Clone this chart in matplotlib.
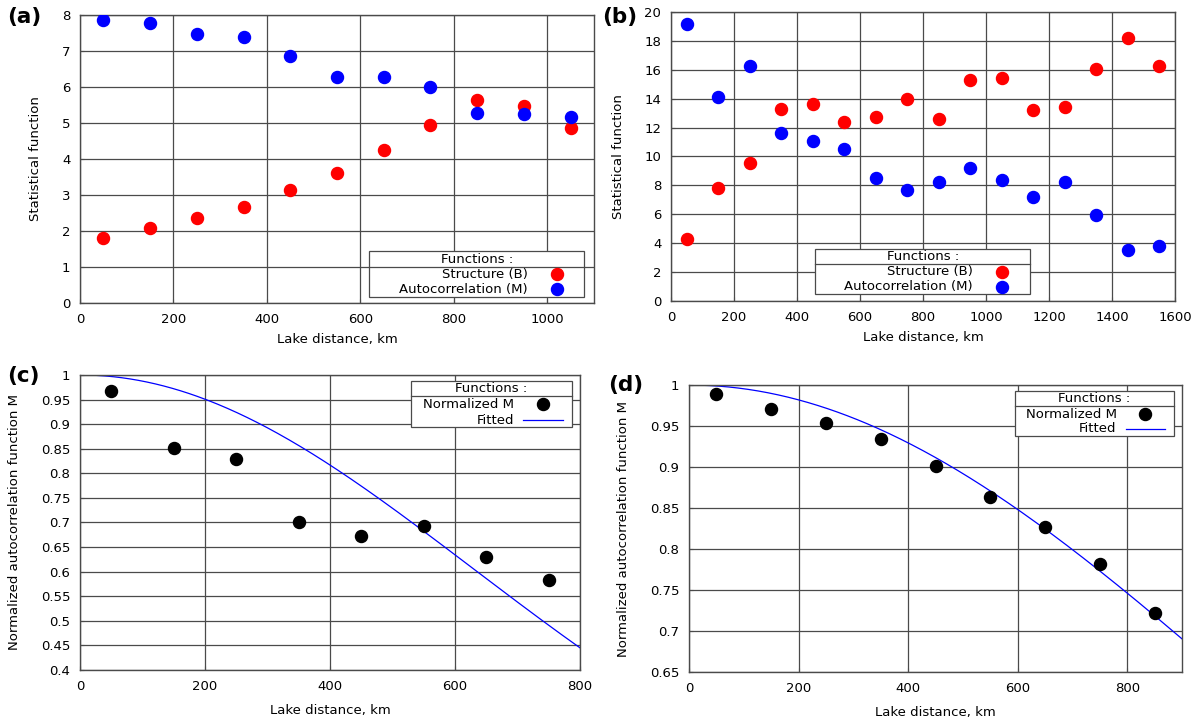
import numpy as np
import matplotlib
matplotlib.use("Agg")
import matplotlib.pyplot as plt
from matplotlib.patches import Rectangle

# panel (a)
dist_a = [50, 150, 250, 350, 450, 550, 650, 750, 850, 950, 1050]
struct_a = [1.8, 2.07, 2.35, 2.68, 3.15, 3.6, 4.25, 4.95, 5.65, 5.47, 4.85]
autoc_a = [7.85, 7.78, 7.47, 7.40, 6.87, 6.27, 6.27, 6.0, 5.27, 5.25, 5.17]

# panel (b)
dist_b = [50, 150, 250, 350, 450, 550, 650, 750, 850, 950, 1050, 1150, 1250, 1350, 1450, 1550]
struct_b = [4.3, 7.8, 9.55, 13.3, 13.65, 12.35, 12.75, 14.0, 12.6, 15.3, 15.4, 13.2, 13.45, 16.05, 18.2, 16.25]
autoc_b = [19.15, 14.1, 16.25, 11.65, 11.05, 10.5, 8.5, 7.7, 8.2, 9.2, 8.4, 7.2, 8.25, 5.95, 3.5, 3.8]

# panel (c)
dist_c = [50, 150, 250, 350, 450, 550, 650, 750]
norm_c = [0.968, 0.852, 0.829, 0.700, 0.673, 0.692, 0.630, 0.584]
fit_len_c = 889.0  # km, gaussian fit length

# panel (d)
dist_d = [50, 150, 250, 350, 450, 550, 650, 750, 850]
norm_d = [0.989, 0.971, 0.954, 0.934, 0.901, 0.863, 0.827, 0.782, 0.722]
fit_len_d = 1478.0

FS = 9.5
GRID = '#4a4a4a'
RED = '#ff0000'
BLUE = '#0000ff'


def style_axes(ax, xlim, ylim, xticks, yticks, ylabel, ylabels=None, xpad=8):
    ax.set_xlim(xlim)
    ax.set_ylim(ylim)
    ax.set_xticks(xticks)
    ax.set_yticks(yticks)
    if ylabels is not None:
        ax.set_yticklabels(ylabels)
    ax.grid(True, color=GRID, linewidth=0.9)
    ax.set_axisbelow(True)
    for s in ax.spines.values():
        s.set_color(GRID)
        s.set_linewidth(1.0)
    ax.tick_params(direction='in', length=3, color=GRID, labelsize=FS, pad=7)
    ax.set_xlabel('Lake distance, km', fontsize=FS, labelpad=xpad)
    ax.set_ylabel(ylabel, fontsize=FS, labelpad=14)


# gnuplot-like key box: title row with a rule under it, right-aligned labels
def gp_key(ax, box, rule, title_y, rows, text_x, dot_x, line_x, entries):
    x0, x1, y0, y1 = box
    tr = ax.transAxes
    ax.add_patch(Rectangle((x0, y0), x1 - x0, y1 - y0, transform=tr, facecolor='white',
                           edgecolor=GRID, linewidth=0.9, zorder=5, clip_on=False))
    ax.plot([x0, x1], [rule, rule], transform=tr, color=GRID, linewidth=0.9, zorder=6,
            clip_on=False)
    ax.text((x0 + x1) / 2, title_y, 'Functions :', transform=tr, fontsize=FS,
            ha='center', va='center', zorder=7)
    for (label, kind, color), y in zip(entries, rows):
        ax.text(text_x, y, label, transform=tr, fontsize=FS, ha='right', va='center', zorder=7)
        if kind == 'dot':
            ax.scatter([dot_x], [y], s=75, color=color, transform=tr, zorder=7, clip_on=False)
        else:
            ax.plot(line_x, [y, y], transform=tr, color=color, linewidth=0.9, zorder=7)


fig = plt.figure(figsize=(12, 7.24), dpi=100)

ax_a = fig.add_axes([0.0667, 0.5815, 0.4283, 0.3978])
ax_a.scatter(dist_a, struct_a, s=75, color=RED, zorder=3)
ax_a.scatter(dist_a, autoc_a, s=75, color=BLUE, zorder=3)
style_axes(ax_a, (0, 1100), (0, 8), range(0, 1001, 200), range(0, 9), 'Statistical function',
           xpad=5)
gp_key(ax_a, (0.563, 0.981, 0.0225, 0.179), 0.126, 0.152, [0.0995, 0.0475], 0.871, 0.9275, None,
       [('Structure (B)', 'dot', RED), ('Autocorrelation (M)', 'dot', BLUE)])

ax_b = fig.add_axes([0.5592, 0.5843, 0.42, 0.3992])
ax_b.scatter(dist_b, struct_b, s=75, color=RED, zorder=3)
ax_b.scatter(dist_b, autoc_b, s=75, color=BLUE, zorder=3)
style_axes(ax_b, (0, 1600), (0, 20), range(0, 1601, 200), range(0, 21, 2), 'Statistical function',
           xpad=5)
gp_key(ax_b, (0.286, 0.713, 0.023, 0.1815), 0.127, 0.153, [0.1006, 0.0486], 0.598, 0.657, None,
       [('Structure (B)', 'dot', RED), ('Autocorrelation (M)', 'dot', BLUE)])

yc = np.arange(0.4, 1.001, 0.05)
xc = np.linspace(0, 800, 300)
ax_c = fig.add_axes([0.0667, 0.0746, 0.4167, 0.4075])
ax_c.scatter(dist_c, norm_c, s=75, color='black', zorder=3)
ax_c.plot(xc, np.exp(-(xc / fit_len_c) ** 2), color=BLUE, linewidth=0.9)
style_axes(ax_c, (0, 800), (0.4, 1.0), range(0, 801, 200), yc,
           'Normalized autocorrelation function M', ['%g' % round(v, 2) for v in yc])
gp_key(ax_c, (0.661, 0.983, 0.824, 0.9796), 0.9285, 0.953, [0.900, 0.847], 0.8676,
       0.925, [0.8853, 0.9654], [('Normalized M', 'dot', 'black'), ('Fitted', 'line', BLUE)])

yd = np.arange(0.65, 1.001, 0.05)
xd = np.linspace(0, 900, 300)
ax_d = fig.add_axes([0.5742, 0.0718, 0.411, 0.3964])
ax_d.scatter(dist_d, norm_d, s=75, color='black', zorder=3)
ax_d.plot(xd, np.exp(-(xd / fit_len_d) ** 2), color=BLUE, linewidth=0.9)
style_axes(ax_d, (0, 900), (0.65, 1.0), range(0, 801, 200), yd,
           'Normalized autocorrelation function M', ['%g' % round(v, 2) for v in yd])
gp_key(ax_d, (0.661, 0.983, 0.8237, 0.980), 0.928, 0.954, [0.899, 0.847], 0.867,
       0.925, [0.886, 0.965], [('Normalized M', 'dot', 'black'), ('Fitted', 'line', BLUE)])

for lab, x, y in [('(a)', 0.006, 0.99), ('(b)', 0.502, 0.99),
                  ('(c)', 0.006, 0.495), ('(d)', 0.507, 0.482)]:
    fig.text(x, y, lab, fontsize=15.5, fontweight='bold', va='top', ha='left')

fig.savefig('out.png', dpi=100)
